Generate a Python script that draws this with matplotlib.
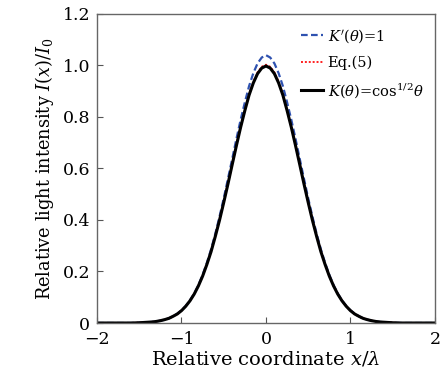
import numpy as np
import matplotlib.pyplot as plt

plt.rcParams['font.family'] = ['DejaVu Serif']
plt.rcParams['mathtext.fontset'] = 'dejavuserif'

# relative coordinate x/lambda (right half, curves are symmetric)
x_half = [0.0, 0.05, 0.1, 0.15, 0.2, 0.25, 0.3, 0.35, 0.4, 0.45, 0.5,
          0.55, 0.6, 0.65, 0.7, 0.75, 0.8, 0.85, 0.9, 0.95, 1.0,
          1.05, 1.1, 1.15, 1.2, 1.25, 1.3, 1.35, 1.4, 1.45, 1.5,
          1.6, 1.7, 1.8, 1.9, 2.0]

# K'(theta)=1
k_one_half = [1.040, 1.031, 1.008, 0.970, 0.920, 0.857, 0.789, 0.715, 0.637, 0.560, 0.484,
              0.413, 0.346, 0.286, 0.233, 0.187, 0.147, 0.114, 0.088, 0.066, 0.049,
              0.036, 0.026, 0.018, 0.013, 0.009, 0.006, 0.004, 0.003, 0.002, 0.001,
              0.0, 0.0, 0.0, 0.0, 0.0]
# Eq.(5)
eq5_half = [1.003, 0.995, 0.973, 0.936, 0.888, 0.828, 0.762, 0.691, 0.617, 0.542, 0.470,
            0.400, 0.337, 0.278, 0.228, 0.183, 0.145, 0.113, 0.087, 0.065, 0.049,
            0.035, 0.026, 0.018, 0.013, 0.009, 0.006, 0.004, 0.003, 0.002, 0.001,
            0.0, 0.0, 0.0, 0.0, 0.0]
# K(theta)=cos^(1/2) theta
k_cos_half = [0.998, 0.990, 0.968, 0.932, 0.885, 0.825, 0.760, 0.689, 0.615, 0.540, 0.468,
              0.399, 0.336, 0.277, 0.227, 0.182, 0.144, 0.112, 0.086, 0.065, 0.048,
              0.035, 0.026, 0.018, 0.013, 0.009, 0.006, 0.004, 0.003, 0.002, 0.001,
              0.0, 0.0, 0.0, 0.0, 0.0]


def mirror(v):
    return v[:0:-1] + v


x = [-t for t in x_half[:0:-1]] + x_half
k_one = mirror(k_one_half)
eq5 = mirror(eq5_half)
k_cos = mirror(k_cos_half)

fig = plt.figure(figsize=(4.42, 3.78), dpi=100)
ax = fig.add_axes([0.2195, 0.1455, 0.7645, 0.8175])

ax.plot(x, k_one, color='#2f52b0', linestyle=(0, (3, 1.5)), linewidth=1.6, label=r"$K'(\theta)$=1")
ax.plot(x, eq5, color='#ff2020', linestyle=(0, (1, 1)), linewidth=1.4, label='Eq.(5)')
ax.plot(x, k_cos, color='black', linewidth=2.2, label=r'$K(\theta)$=cos$^{1/2}\theta$')

ax.set_xlim(-2, 2)
ax.set_ylim(0, 1.2)
ax.set_xticks([-2, -1, 0, 1, 2])
ax.set_xticklabels(['\u22122', '\u22121', '0', '1', '2'])
ax.set_yticks([0, 0.2, 0.4, 0.6, 0.8, 1.0, 1.2])
ax.set_yticklabels(['0', '0.2', '0.4', '0.6', '0.8', '1.0', '1.2'])
ax.tick_params(direction='in', length=4, width=0.8, color='#555555', labelsize=12.5)
ax.tick_params(axis='x', pad=6)
ax.tick_params(axis='y', pad=5)

for s in ax.spines.values():
    s.set_color('#666666')
    s.set_linewidth(1.0)

ax.set_xlabel(r'Relative coordinate $x/\lambda$', fontsize=14, labelpad=1)
ax.set_ylabel(r'Relative light intensity $I(x)/I_0$', fontsize=12.8, labelpad=5)

ax.legend(loc='upper left', bbox_to_anchor=(0.605, 0.958), frameon=False, fontsize=10.5,
          handlelength=1.45, handletextpad=0.35, labelspacing=0.75,
          borderpad=0, borderaxespad=0)

fig.savefig('out.png', dpi=100)
